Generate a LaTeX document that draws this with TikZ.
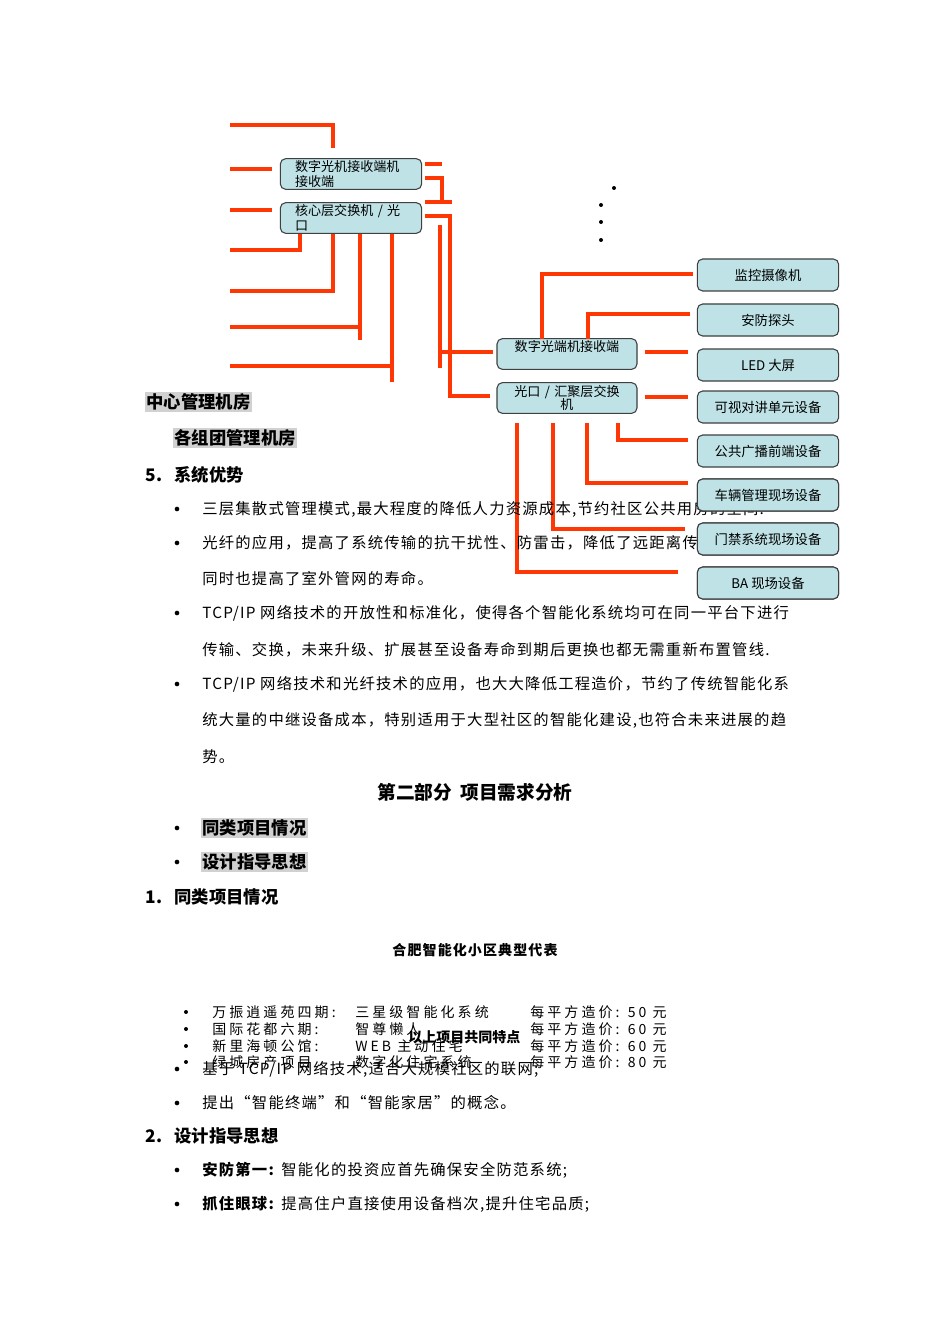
\documentclass[tikz,border=0pt]{standalone}
\usepackage{fontspec}
\setmainfont{Noto Sans CJK SC}
\definecolor{ored}{RGB}{255,55,5}
\definecolor{boxfill}{RGB}{190,226,230}
\begin{document}
\begin{tikzpicture}[x=0.75pt,y=-0.75pt,
  wire/.style={ored,line width=3pt},
  devbox/.style={draw=black!75,fill=boxfill,rounded corners=4pt,line width=0.8pt,minimum width=106pt,minimum height=24pt,font=\fontsize{10}{10}\selectfont,inner sep=1pt},
  swbox/.style={draw=black!75,fill=boxfill,rounded corners=4pt,line width=0.8pt,minimum width=106pt,minimum height=23pt,inner sep=1pt,font=\fontsize{9.8}{11}\selectfont,align=left,text width=96pt},
  body/.style={anchor=west,font=\fontsize{11.5}{12}\selectfont\addfontfeature{LetterSpace=8},inner sep=0pt},
  bul/.style={circle,fill=black,inner sep=0pt,minimum size=3.5pt},
  small/.style={anchor=west,font=\fontsize{10.5}{11}\selectfont\addfontfeature{LetterSpace=22},inner sep=0pt},
  hd/.style={anchor=west,font=\fontsize{13}{14}\selectfont\bfseries,inner sep=1pt},
  hl/.style={hd,fill=black!18},
  dot/.style={circle,fill=black,inner sep=0pt,minimum size=3pt}]
\useasboundingbox (0,0) rectangle (950,1344);
% switch boxes
\node[swbox] (b1) at (351,174) {\hspace*{6pt}数字光机接收端机\\\hspace*{6pt}接收端};
\node[swbox] (b2) at (351,218) {\hspace*{6pt}核心层交换机 / 光\\\hspace*{6pt}口};
\node[swbox,align=center,minimum width=105pt] (b3) at (567,354) {数字光端机接收端\\[1pt]\phantom{口}};
\node[swbox,align=center,minimum width=105pt] (b4) at (567,398) {光口 / 汇聚层交换\\[-1pt]机};
% device boxes
\foreach \n/\y/\t in {d1/275/监控摄像机,d2/320/安防探头,d3/365/LED 大屏,d4/407/可视对讲单元设备,d5/451/公共广播前端设备,d6/495/车辆管理现场设备,d7/539/门禁系统现场设备,d8/583/BA 现场设备}
  \node[devbox] (\n) at (768,\y) {\t};
% left wires
\draw[wire] (230,125) -- (333,125) -- (333,148);
\draw[wire] (230,169) -- (272,169);
\draw[wire] (230,210) -- (272,210);
\draw[wire] (230,250) -- (300,250) -- (300,234);
\draw[wire] (230,291) -- (333,291) -- (333,234);
\draw[wire] (230,327) -- (360,327);
\draw[wire] (360,234) -- (360,340);
\draw[wire] (230,366) -- (392,366);
\draw[wire] (392,234) -- (392,382);
% middle wires
\draw[wire] (425,164) -- (442,164);
\draw[wire] (425,178) -- (442,178) -- (442,200);
\draw[wire] (425,202) -- (452,202);
\draw[wire] (425,216) -- (450,216) -- (450,396) -- (490,396);
\draw[wire] (440,225) -- (440,368);
\draw[wire] (440,352) -- (493,352);
% right wires
\draw[wire] (542,339) -- (542,274) -- (693,274);
\draw[wire] (588,339) -- (588,314) -- (690,314);
\draw[wire] (645,352) -- (688,352);
\draw[wire] (645,397) -- (688,397);
\draw[wire] (618,423) -- (618,440) -- (688,440);
\draw[wire] (587,423) -- (587,483) -- (688,483);
\draw[wire] (553,423) -- (553,529) -- (685,529);
\draw[wire] (517,423) -- (517,572) -- (678,572);
% dots
\node[dot] at (614,188) {}; \node[dot] at (601,205) {}; \node[dot] at (601,222) {}; \node[dot] at (601,240) {};
% texts
\node[hl] at (145,402) {中心管理机房};
\node[hl] at (173,438) {各组团管理机房};
\node[hd] at (144,475) {5.};
\node[hd] at (173,475) {系统优势};
\foreach \y in {509,543,613,684} \node[bul] at (177,\y) {};
\node[body] at (202,509) {三层集散式管理模式,最大程度的降低人力资源成本,节约社区公共用房的空间.};
\node[body] at (202,543) {光纤的应用，提高了系统传输的抗干扰性、防雷击，降低了远距离传输的衰减，};
\node[body] at (202,579) {同时也提高了室外管网的寿命。};
\node[body] at (202,613) {TCP/IP 网络技术的开放性和标准化，使得各个智能化系统均可在同一平台下进行};
\node[body] at (202,650) {传输、交换，未来升级、扩展甚至设备寿命到期后更换也都无需重新布置管线.};
\node[body] at (202,684) {TCP/IP 网络技术和光纤技术的应用，也大大降低工程造价，节约了传统智能化系};
\node[body] at (202,720) {统大量的中继设备成本，特别适用于大型社区的智能化建设,也符合未来进展的趋};
\node[body] at (202,757) {势。};
% redraw device boxes over text
\foreach \n/\y/\t in {d6/495/车辆管理现场设备,d7/539/门禁系统现场设备,d8/583/BA 现场设备}
  \node[devbox] at (768,\y) {\t};
\node[anchor=center,font=\fontsize{14}{15}\selectfont\bfseries] at (475,792) {第二部分\ \ 项目需求分析};
\node[bul] at (177,828) {}; \node[hl] at (201,828) {同类项目情况};
\node[bul] at (177,862) {}; \node[hl] at (201,862) {设计指导思想};
\node[hd] at (144,897) {1.};
\node[hd] at (173,897) {同类项目情况};
\node[font=\fontsize{10.5}{11}\selectfont\bfseries\addfontfeature{LetterSpace=8}] at (475,950) {合肥智能化小区典型代表};
\foreach \y/\a/\b/\c in {1012/万振逍遥苑四期:/三星级智能化系统/每平方造价: 50 元,1029/国际花都六期:/智尊懒人/每平方造价: 60 元,1046/新里海顿公馆:/WEB 主动住宅/每平方造价: 60 元,1062/绿城房产项目/数字化住宅系统/每平方造价: 80 元}{
  \node[bul,minimum size=3pt] at (186,\y) {};
  \node[small] at (212,\y) {\a};
  \node[small] at (355,\y) {\b};
  \node[small] at (530,\y) {\c};}
\node[anchor=west,font=\fontsize{10.5}{11}\selectfont\bfseries,inner sep=0pt] at (408,1037) {以上项目共同特点};
\node[bul] at (177,1069) {}; \node[body] at (202,1069) {基于 TCP/IP 网络技术,适合大规模社区的联网;};
\node[bul] at (177,1103) {}; \node[body] at (202,1103) {提出“智能终端”和“智能家居”的概念。};
\node[hd] at (144,1136) {2.};
\node[hd] at (173,1136) {设计指导思想};
\node[bul] at (177,1170) {}; \node[body] at (202,1170) {\textbf{安防第一:} 智能化的投资应首先确保安全防范系统;};
\node[bul] at (177,1204) {}; \node[body] at (202,1204) {\textbf{抓住眼球:} 提高住户直接使用设备档次,提升住宅品质;};
\end{tikzpicture}
\end{document}
